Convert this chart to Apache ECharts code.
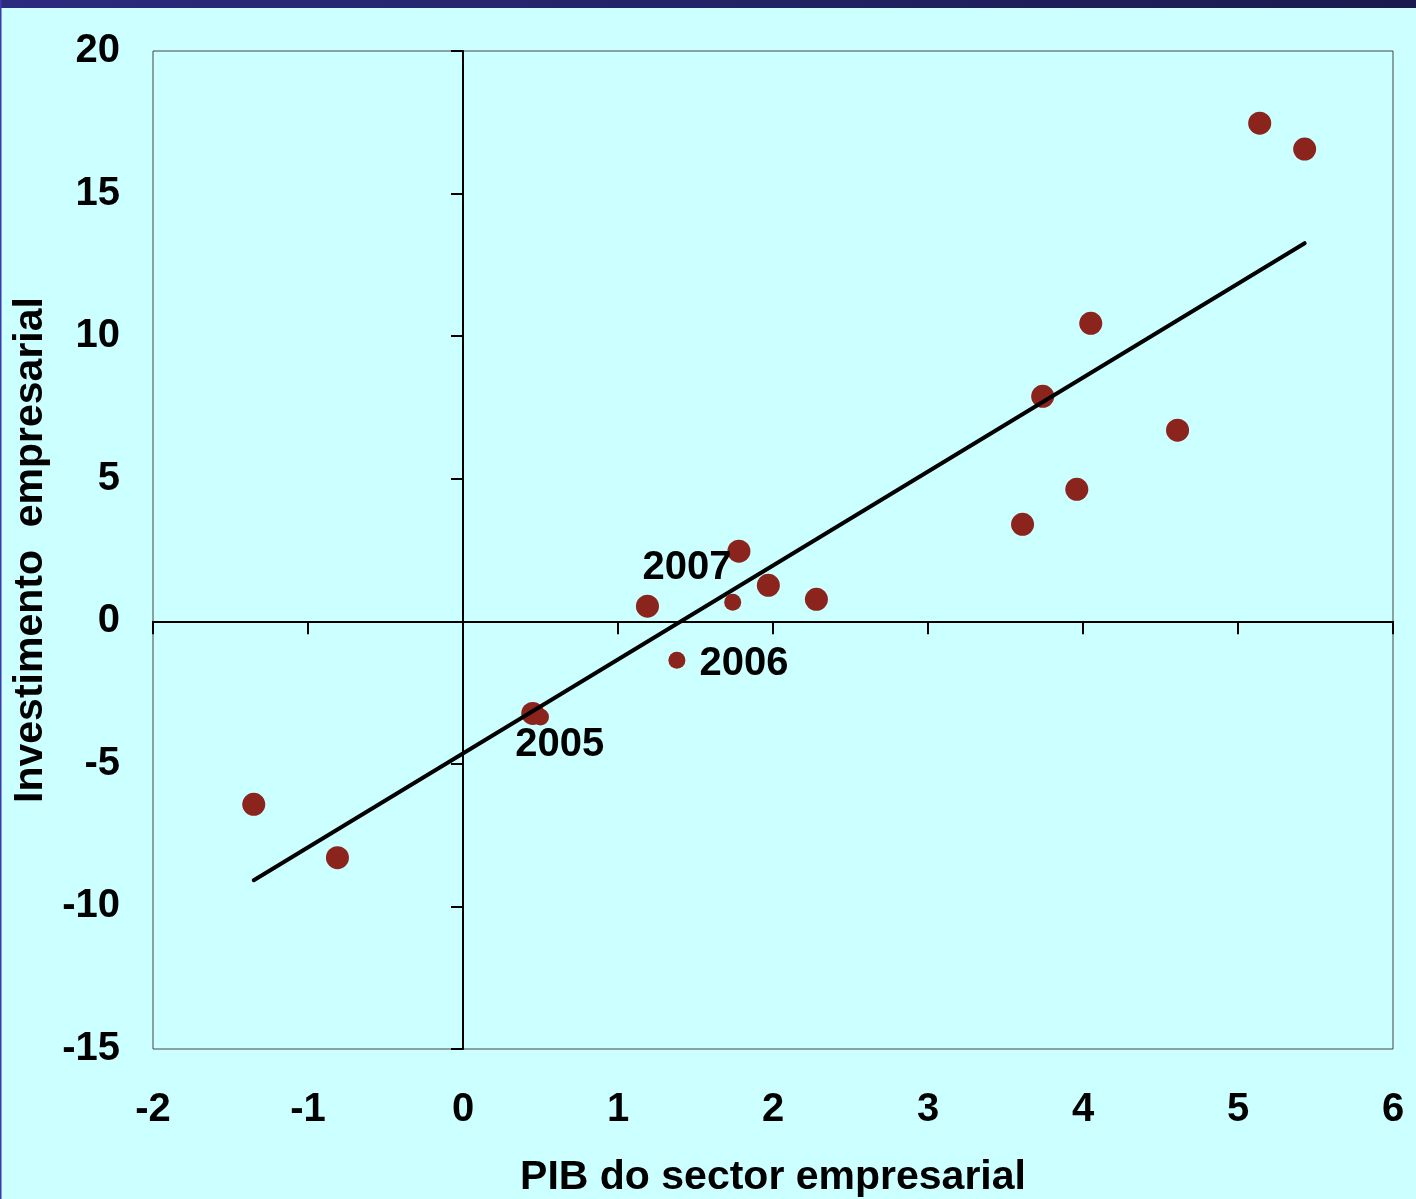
<!DOCTYPE html>
<html>
<head>
<meta charset="utf-8">
<script src="https://cdn.jsdelivr.net/npm/echarts@6/dist/echarts.min.js"></script>
<style>
html,body{margin:0;padding:0;background:#CCFFFF;}
#chart{width:1416px;height:1199px;}
</style>
</head>
<body>
<div id="chart"></div>
<script>
// Data
var xTicks = [-2, -1, 0, 1, 2, 3, 4, 5, 6];
var yTicks = [-15, -10, -5, 0, 5, 10, 15, 20];
var bigX = [-1.35, -0.81, 0.45, 1.19, 1.78, 1.97, 2.28, 3.61, 3.74, 3.96, 4.05, 4.61, 5.14, 5.43];
var bigY = [-6.42, -8.29, -3.23, 0.53, 2.46, 1.26, 0.77, 3.40, 7.89, 4.63, 10.45, 6.70, 17.47, 16.56];
var smallX = [0.50, 1.38, 1.74];
var smallY = [-3.36, -1.37, 0.67];
var trendX = [-1.35, 5.43];
var trendY = [-9.08, 13.26];
var yearLabels = ['2005', '2006', '2007'];
var yearX = [0.45, 1.38, 1.78];
var yearY = [-3.23, -1.37, 2.46];
var xTitle = 'PIB do sector empresarial';
var yTitle = 'Investimento  empresarial';

var FONT = "'Liberation Sans', Arial, sans-serif";
var pointColor = '#8A241C';
var yearOffsets = [[27, 32], [67, 4], [-52, 17]];

function pairs(xs, ys) { return xs.map(function (x, i) { return [x, ys[i]]; }); }

var chart = echarts.init(document.getElementById('chart'), null, { renderer: 'canvas' });
var xMin = xTicks[0], xMax = xTicks[xTicks.length - 1];
var yMin = yTicks[0], yMax = yTicks[yTicks.length - 1];
var labelStyle = { color: '#000', fontFamily: FONT, fontWeight: 'bold', fontSize: 40, lineHeight: 40 };
var titleStyle = { color: '#000', fontFamily: FONT, fontWeight: 'bold', fontSize: 41, lineHeight: 41 };

var option = {
  backgroundColor: '#CCFFFF',
  animation: false,
  graphic: [
    { type: 'rect', left: 0, top: 0, shape: { width: 1416, height: 8 },
      style: { fill: new echarts.graphic.LinearGradient(0, 0, 1, 0, [{ offset: 0, color: '#2C2B7E' }, { offset: 1, color: '#1B1A4E' }]) } },
    { type: 'rect', left: 0, top: 0, shape: { width: 1.5, height: 1199 }, style: { fill: '#3A3AAE' } }
  ],
  grid: { left: 153, top: 51, width: 1240, height: 998, containLabel: false, outerBoundsMode: 'none',
    show: true, borderColor: '#444', borderWidth: 1, backgroundColor: 'transparent' },
  xAxis: [
    { type: 'value', min: xMin, max: xMax, interval: 1, position: 'bottom',
      axisLine: { show: true, onZero: true, onZeroAxisIndex: 0, lineStyle: { color: '#000', width: 2 } },
      axisTick: { show: true, length: 13, lineStyle: { color: '#000', width: 2 } },
      axisLabel: { show: false }, splitLine: { show: false } },
    { type: 'value', min: xMin, max: xMax, interval: 1, position: 'bottom',
      axisLine: { show: false, onZero: false }, axisTick: { show: false },
      axisLabel: Object.assign({ show: true, margin: 41 }, labelStyle),
      splitLine: { show: false },
      name: xTitle, nameLocation: 'middle', nameGap: 108,
      nameTextStyle: titleStyle }
  ],
  yAxis: [
    { type: 'value', min: yMin, max: yMax, interval: 5, position: 'left',
      axisLine: { show: true, onZero: true, onZeroAxisIndex: 0, lineStyle: { color: '#000', width: 2 } },
      axisTick: { show: true, length: 12, lineStyle: { color: '#000', width: 2 } },
      axisLabel: { show: false }, splitLine: { show: false } },
    { type: 'value', min: yMin, max: yMax, interval: 5, position: 'left',
      axisLine: { show: false, onZero: false }, axisTick: { show: false },
      axisLabel: Object.assign({ show: true, margin: 33 }, labelStyle),
      splitLine: { show: false },
      name: yTitle, nameLocation: 'middle', nameGap: 98, nameRotate: 90,
      nameTextStyle: titleStyle }
  ],
  series: [
    { type: 'scatter', xAxisIndex: 0, yAxisIndex: 0, symbol: 'circle', symbolSize: 23,
      itemStyle: { color: pointColor, opacity: 1 }, data: pairs(bigX, bigY), z: 2 },
    { type: 'scatter', xAxisIndex: 0, yAxisIndex: 0, symbol: 'circle', symbolSize: 17,
      itemStyle: { color: pointColor, opacity: 1 }, data: pairs(smallX, smallY), z: 2 },
    { type: 'line', xAxisIndex: 0, yAxisIndex: 0, showSymbol: false, symbol: 'none',
      lineStyle: { color: '#000', width: 4, cap: 'round' }, data: pairs(trendX, trendY), z: 3 },
    { type: 'scatter', xAxisIndex: 0, yAxisIndex: 0, symbol: 'circle', symbolSize: 1,
      itemStyle: { color: 'rgba(0,0,0,0)', opacity: 1 }, z: 4,
      data: yearLabels.map(function (t, i) {
        return { value: [yearX[i], yearY[i]], name: t,
          label: { show: true, position: 'inside', offset: yearOffsets[i], formatter: t,
            color: '#000', opacity: 1, fontFamily: FONT, fontWeight: 'bold', fontSize: 40 } };
      }) }
  ]
};
chart.setOption(option);
</script>
</body>
</html>
